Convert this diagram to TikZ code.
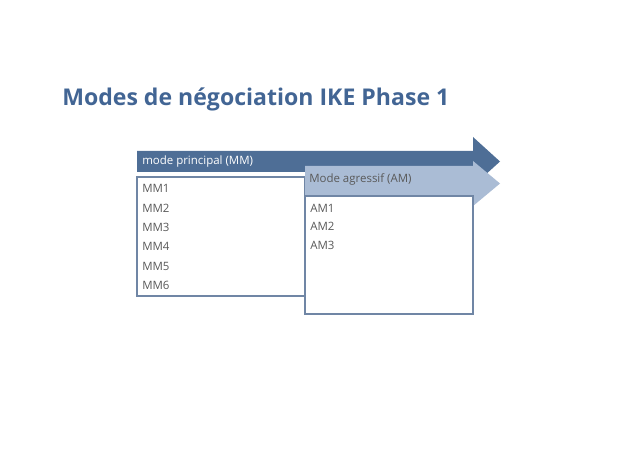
\documentclass[tikz,border=0pt]{standalone}
\usepackage{fontspec}
\setmainfont{Open Sans}
\definecolor{titleblue}{RGB}{66,101,148}
\definecolor{darkarrow}{RGB}{78,110,150}
\definecolor{lightarrow}{RGB}{170,188,213}
\definecolor{boxline}{RGB}{112,134,165}
\definecolor{itemgray}{RGB}{89,89,89}
\begin{document}
\begin{tikzpicture}[x=0.75pt,y=-0.75pt,
	item/.style={anchor=west,inner sep=0pt,font=\fontsize{8.6}{10}\selectfont,text=itemgray},
	listbox/.style={draw=boxline,line width=0.8pt,fill=white}]
	\useasboundingbox (0,0) rectangle (638,452);
	% title
	\node[anchor=base west,inner sep=0pt,font=\fontsize{17.3}{20}\bfseries\selectfont,text=titleblue] (title) at (62,106) {Modes de négociation IKE Phase 1};
	% main mode arrow and list
	\fill[darkarrow] (137,151) -- (473,151) -- (473,137) -- (500,161.5) -- (473,186) -- (473,172) -- (137,172) -- cycle;
	\node[item,text=white] (mmhead) at (142,161.5) {mode principal (MM)};
	\draw[listbox] (137,177) rectangle (305,296);
	\foreach \i/\y in {1/188,2/208,3/227,4/246,5/266,6/285}
		\node[item] (mm\i) at (142,\y) {MM\i};
	% aggressive mode arrow and list
	\fill[lightarrow] (305,166) -- (473,166) -- (473,161) -- (500,183.5) -- (473,206) -- (473,196) -- (305,196) -- cycle;
	\node[item,text=itemgray] (amhead) at (309,179) {Mode agressif (AM)};
	\draw[listbox] (305,196) rectangle (473,314);
	\foreach \i/\y in {1/208,2/226,3/245}
		\node[item] (am\i) at (310,\y) {AM\i};
\end{tikzpicture}
\end{document}
